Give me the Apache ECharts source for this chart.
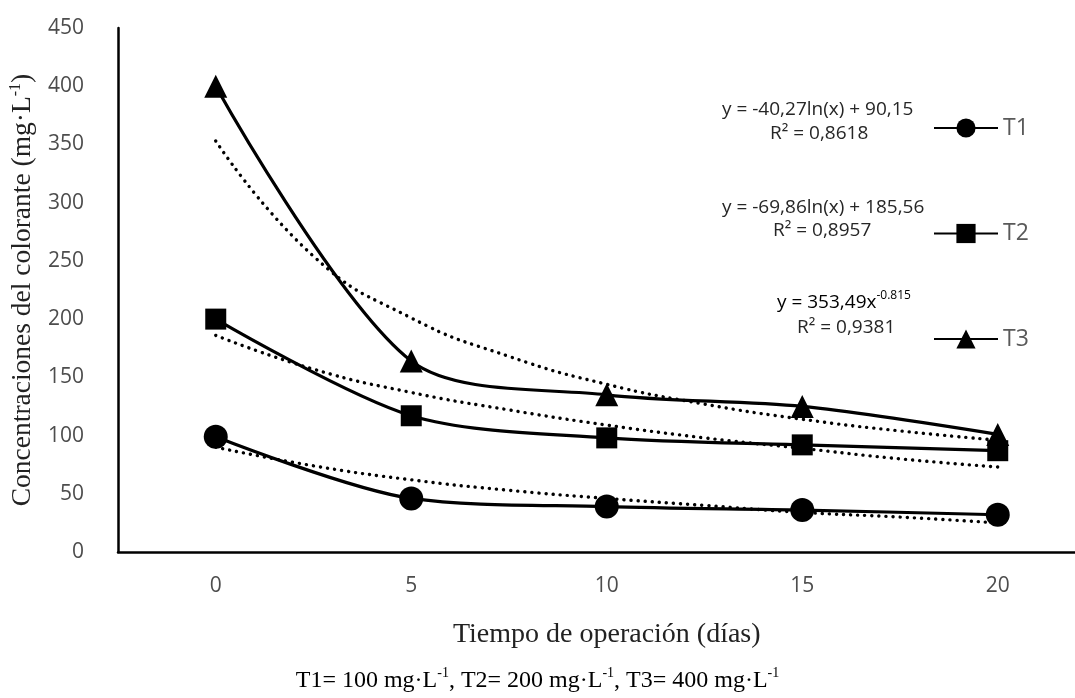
<!DOCTYPE html>
<html><head><meta charset="utf-8">
<script src="https://cdn.jsdelivr.net/npm/echarts@6/dist/echarts.min.js"></script>
<style>html,body{margin:0;padding:0;background:#fff}#c{width:1075px;height:698px}</style>
</head><body><div id="c"></div>
<script>
// ---- data ----
const days = [0, 5, 10, 15, 20];
const t1 = [99, 46, 39, 36, 32];
const t2 = [200, 117, 98, 92, 87];
const t3 = [400, 164, 135, 125, 101];
// dotted trend lines
const fitDays = [0, 2.5, 5, 7.5, 10, 12.5, 15, 17.5, 20];
const t1Fit = [90, 74, 62, 53, 46, 40, 34, 30, 25];
const t2Fit = [186, 157, 137, 122, 109, 98, 89, 80, 73];
const t3Fit = [353, 254, 201, 168, 144, 127, 114, 104, 96];
const seriesNames = ['T1', 'T2', 'T3'];
const yMin = 0, yMax = 450, yStep = 50;

const pairs = (xs, ys) => xs.map((x, i) => [x, ys[i]]);
const tickFont = '"Open Sans", sans-serif';
const serif = '"Liberation Serif", "Times New Roman", serif';

function mainSeries(name, vals, symbol, size) {
  return {
    name, type: 'line', data: pairs(days, vals), smooth: 0.3,
    symbol, symbolSize: size, z: 3,
    lineStyle: {color: '#000', width: 3.2},
    itemStyle: {color: '#000', borderWidth: 0}
  };
}
function fitSeries(name, vals) {
  return {
    name, type: 'line', data: pairs(fitDays, vals), smooth: 0.5,
    symbol: 'none', z: 2, silent: true,
    lineStyle: {color: '#000', width: 3.4, type: [0.1, 7], cap: 'round'}
  };
}

const eqStyle = {fontFamily: tickFont, fontSize: 19, fill: '#262626', textAlign: 'center'};
const chart = echarts.init(document.getElementById('c'), null, {renderer: 'canvas'});
chart.setOption({
  animation: false,
  backgroundColor: '#fff',
  grid: {left: 118, top: 28, width: 977.5, height: 524, outerBoundsMode: 'none'},
  xAxis: {
    type: 'value', min: -2.5, max: 22.5, interval: 2.5,
    axisLine: {show: true, lineStyle: {color: '#000', width: 2.5}},
    axisTick: {show: false}, splitLine: {show: false},
    axisLabel: {formatter: v => (v % 5 === 0 ? String(v) : ''), color: '#4d4d4d',
      fontFamily: tickFont, fontSize: 21, margin: 24},
    name: 'Tiempo de operación (días)', nameLocation: 'middle', nameGap: 69,
    nameTextStyle: {fontFamily: serif, fontSize: 28, color: '#222'}
  },
  yAxis: {
    type: 'value', min: yMin, max: yMax, interval: yStep,
    axisLine: {show: true, onZero: false, lineStyle: {color: '#000', width: 2.5}},
    axisTick: {show: false}, splitLine: {show: false},
    axisLabel: {color: '#4d4d4d', fontFamily: tickFont, fontSize: 21, margin: 34},
    name: '{a|Concentraciones del colorante (mg·L}{s|-1}{a|)}',
    nameLocation: 'middle', nameGap: 71, nameRotate: 90,
    nameTextStyle: {
      color: '#222',
      rich: {
        a: {fontFamily: serif, fontSize: 27.5, color: '#222', lineHeight: 30},
        s: {fontFamily: serif, fontSize: 16, color: '#222', verticalAlign: 'top', lineHeight: 14}
      }
    }
  },
  legend: {
    data: seriesNames, orient: 'vertical', left: 928, top: 111.5,
    itemWidth: 64, itemHeight: 24, itemGap: 82.5,
    textStyle: {fontFamily: tickFont, fontSize: 23, color: '#595959'}
  },
  graphic: [
    {type: 'text', left: 722, top: 100, style: Object.assign({}, eqStyle, {text: 'y = -40,27ln(x) + 90,15'})},
    {type: 'text', left: 770, top: 124, style: Object.assign({}, eqStyle, {text: 'R² = 0,8618'})},
    {type: 'text', left: 722, top: 198, style: Object.assign({}, eqStyle, {text: 'y = -69,86ln(x) + 185,56'})},
    {type: 'text', left: 773, top: 221, style: Object.assign({}, eqStyle, {text: 'R² = 0,8957'})},
    {type: 'text', left: 777, top: 290, style: {
      text: '{a|y = 353,49x}{s|-0.815}',
      rich: {
        a: {fontFamily: tickFont, fontSize: 19, color: '#262626', lineHeight: 26},
        s: {fontFamily: tickFont, fontSize: 12, color: '#262626', verticalAlign: 'top', lineHeight: 13}
      }
    }},
    {type: 'text', left: 797, top: 318, style: Object.assign({}, eqStyle, {text: 'R² = 0,9381'})},
    {type: 'text', left: 'center', top: 666, style: {
      text: '{a|T1= 100 mg·L}{s|-1}{a|, T2= 200 mg·L}{s|-1}{a|, T3= 400 mg·L}{s|-1}',
      rich: {
        a: {fontFamily: serif, fontSize: 24, color: '#222', lineHeight: 30},
        s: {fontFamily: serif, fontSize: 14, color: '#222', verticalAlign: 'top', lineHeight: 15}
      }
    }}
  ],
  series: [
    fitSeries('T1 fit', t1Fit),
    fitSeries('T2 fit', t2Fit),
    fitSeries('T3 fit', t3Fit),
    mainSeries('T1', t1, 'circle', 24),
    mainSeries('T2', t2, 'rect', 21),
    mainSeries('T3', t3, 'triangle', 23)
  ]
});
</script></body></html>
